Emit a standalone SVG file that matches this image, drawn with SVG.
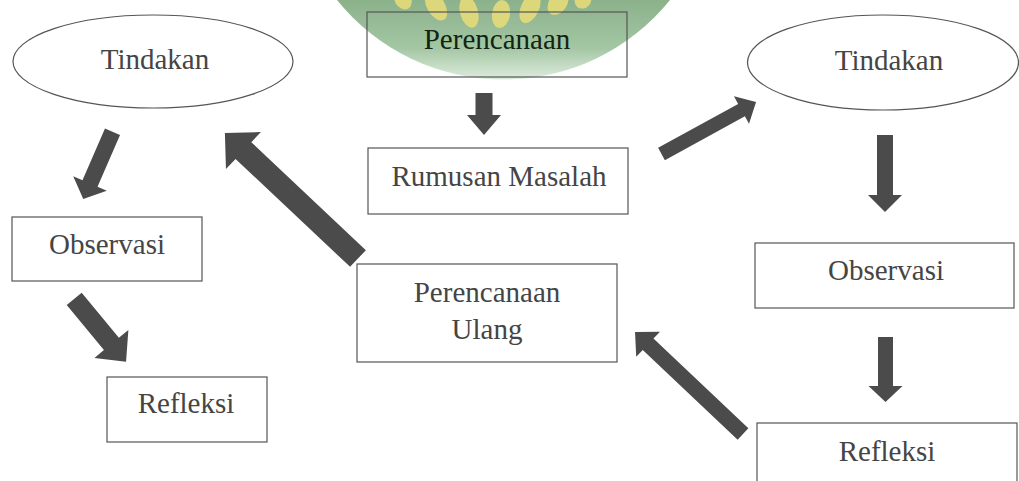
<svg xmlns="http://www.w3.org/2000/svg" width="1019" height="481" viewBox="0 0 1019 481">
<style>
.box{fill:none;stroke:#555;stroke-width:1.2}
.lbl{font-family:"Liberation Serif","Times New Roman",serif;font-size:29px;fill:#454545;text-anchor:middle}
.arrow{fill:#4b4b4b}
.grain{fill:#e0d35a;opacity:0.9}
</style>
<defs>
<linearGradient id="wm" x1="0" y1="0" x2="0" y2="1">
<stop offset="0" stop-color="#6f9f6f"/>
<stop offset="0.6" stop-color="#8db88d"/>
<stop offset="1" stop-color="#d6e8d6"/>
</linearGradient>
</defs>
<rect width="1019" height="481" fill="#fff"/>
<g id="watermark" opacity="0.8">
<path d="M337,0 A214,214 0 0 0 670,0 Z" fill="url(#wm)"/>
<ellipse class="grain" cx="403" cy="0" rx="8" ry="10" transform="rotate(-35 403 0)"/>
<ellipse class="grain" cx="436" cy="6" rx="9" ry="16" transform="rotate(-30 436 6)"/>
<ellipse class="grain" cx="469" cy="12" rx="9" ry="16" transform="rotate(-15 469 12)"/>
<ellipse class="grain" cx="501" cy="14" rx="9" ry="14" transform="rotate(8 501 14)"/>
<ellipse class="grain" cx="530" cy="8" rx="9" ry="16" transform="rotate(25 530 8)"/>
<ellipse class="grain" cx="558" cy="3" rx="9" ry="13" transform="rotate(35 558 3)"/>
<ellipse class="grain" cx="583" cy="0" rx="8" ry="9" transform="rotate(40 583 0)"/>
</g>
<g id="connectors">
<polygon class="arrow" points="0,-8.5 22,-8.5 22,-17 42,0 22,17 22,8.5 0,8.5" transform="translate(484,93) rotate(90)"/>
<polygon class="arrow" points="0,-8.2 56.4,-8.2 56.4,-18.3 73.4,0 56.4,18.3 56.4,8.2 0,8.2" transform="translate(112.5,131.7) rotate(113.5)"/>
<polygon class="arrow" points="0,-9.7 58.5,-9.7 58.5,-22 81.5,0 58.5,22 58.5,9.7 0,9.7" transform="translate(74.2,298.8) rotate(50.5)"/>
<polygon class="arrow" points="0,-11.5 157.4,-11.5 157.4,-25.5 182.9,0 157.4,25.5 157.4,11.5 0,11.5" transform="translate(358,258.5) rotate(223.3)"/>
<polygon class="arrow" points="0,-7 91.3,-7 91.3,-15.6 107.9,0 91.3,15.6 91.3,7 0,7" transform="translate(661.5,154) rotate(-28.8)"/>
<polygon class="arrow" points="0,-7.8 130.6,-7.8 130.6,-17.3 148.6,0 130.6,17.3 130.6,7.8 0,7.8" transform="translate(743,434) rotate(223.4)"/>
<polygon class="arrow" points="0,-8 60,-8 60,-17 77,0 60,17 60,8 0,8" transform="translate(885,135) rotate(90)"/>
<polygon class="arrow" points="0,-7.5 49,-7.5 49,-17 65,0 49,17 49,7.5 0,7.5" transform="translate(885.5,337) rotate(90)"/>
</g>
<g id="perencanaan">
<rect class="box" x="367" y="12" width="260" height="65" stroke="#333"/>
<text class="lbl" x="497" y="49" style="fill:#142414">Perencanaan</text>
</g>
<g id="rumusan-masalah">
<rect class="box" x="368" y="148" width="260" height="66"/>
<text class="lbl" x="499" y="186">Rumusan Masalah</text>
</g>
<g id="tindakan-1">
<ellipse class="box" cx="153" cy="61.5" rx="140" ry="46.5"/>
<text class="lbl" x="155" y="69">Tindakan</text>
</g>
<g id="observasi-1">
<rect class="box" x="12" y="217" width="190" height="64"/>
<text class="lbl" x="107" y="254">Observasi</text>
</g>
<g id="refleksi-1">
<rect class="box" x="107" y="377" width="160" height="65"/>
<text class="lbl" x="186" y="413">Refleksi</text>
</g>
<g id="perencanaan-ulang">
<rect class="box" x="357" y="264" width="260" height="98"/>
<text class="lbl" x="487" y="302">Perencanaan</text>
<text class="lbl" x="487" y="339">Ulang</text>
</g>
<g id="tindakan-2">
<ellipse class="box" cx="883" cy="62.5" rx="135.5" ry="47.5"/>
<text class="lbl" x="889" y="70">Tindakan</text>
</g>
<g id="observasi-2">
<rect class="box" x="755" y="243" width="259" height="65"/>
<text class="lbl" x="886" y="280">Observasi</text>
</g>
<g id="refleksi-2">
<rect class="box" x="757" y="423" width="260" height="70"/>
<text class="lbl" x="887" y="461">Refleksi</text>
</g>
</svg>
